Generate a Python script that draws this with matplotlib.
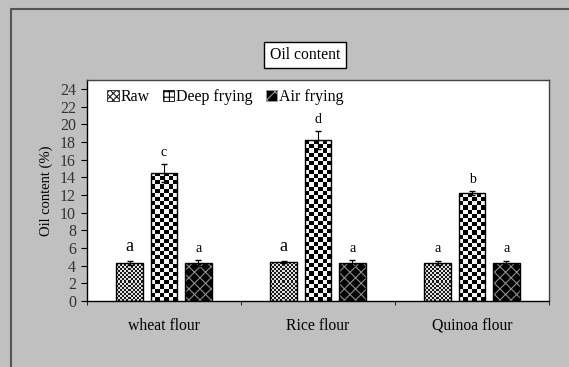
import numpy as np
import matplotlib
matplotlib.use("Agg")
import matplotlib.pyplot as plt
from matplotlib.patches import Patch
from matplotlib.lines import Line2D

plt.rcParams['font.family'] = ['Liberation Serif', 'DejaVu Serif']
plt.rcParams['hatch.linewidth'] = 0.8

# data
categories = ['wheat flour', 'Rice flour', 'Quinoa flour']
series = ['Raw', 'Deep frying', 'Air frying']
raw = [4.3, 4.4, 4.3]
deep = [14.5, 18.2, 12.2]
air = [4.3, 4.3, 4.3]
raw_err = [0.25, 0.1, 0.25]
deep_err = [1.0, 1.0, 0.25]
air_err = [0.3, 0.3, 0.25]
raw_letters = ['a', 'a', 'a']
deep_letters = ['c', 'd', 'b']
air_letters = ['a', 'a', 'a']
raw_letter_big = [True, True, False]

fig = plt.figure(figsize=(5.69, 3.67), dpi=100)
fig.patch.set_facecolor('#c0c0c0')
# outer frame of the chart area (left and top edges only)
fig.add_artist(Line2D([11/569, 11/569, 1.0], [0, 1 - 9/367, 1 - 9/367],
                      transform=fig.transFigure, color='#555555', linewidth=1.5))

ax = fig.add_axes([87/569, 1 - 301/367, 462/569, 221/367])
ax.set_facecolor('white')

x = np.arange(len(categories))
w = 0.175
gap = 0.222


def checker(patch, cell_px, c1, c2):
    bb = patch.get_bbox()
    disp = ax.transData.transform([[bb.x0, bb.y0], [bb.x1, bb.y1]])
    nx = max(1, int(round((disp[1, 0] - disp[0, 0]) / cell_px)))
    ny = max(1, int(round((disp[1, 1] - disp[0, 1]) / cell_px)))
    ii, jj = np.indices((ny, nx))
    arr = ((ii + jj) % 2).astype(float)
    cmap = matplotlib.colors.ListedColormap([c1, c2])
    im = ax.imshow(arr, extent=[bb.x0, bb.x1, bb.y0, bb.y1], origin='lower',
                   cmap=cmap, interpolation='nearest', aspect='auto', zorder=2)
    im.set_clip_path(patch)


ax.set_xlim(-0.5, 2.5)
ax.set_ylim(0, 25)

b_raw = ax.bar(x - gap, raw, w, edgecolor='black', linewidth=1, zorder=3, fill=False)
b_deep = ax.bar(x, deep, w, edgecolor='black', linewidth=1, zorder=3, fill=False)
# air frying: black fill with gray diagonal cross-hatch
ax.bar(x + gap, air, w, color='black', edgecolor='#8c8c8c', hatch='xxx', linewidth=0, zorder=2)
ax.bar(x + gap, air, w, fill=False, edgecolor='black', linewidth=1, zorder=3)

fig.canvas.draw()
for p in b_raw:
    checker(p, 2.0, '#e0e0e0', '#1a1a1a')
for p in b_deep:
    checker(p, 4.2, '#f4f4f4', '#000000')

ax.errorbar(x - gap, raw, yerr=raw_err, fmt='none', ecolor='black', capsize=2, elinewidth=0.8, zorder=4)
ax.errorbar(x, deep, yerr=deep_err, fmt='none', ecolor='black', capsize=2, elinewidth=0.8, zorder=4)
ax.errorbar(x + gap, air, yerr=air_err, fmt='none', ecolor='black', capsize=2, elinewidth=0.8, zorder=4)

for i in range(len(categories)):
    fs = 13 if raw_letter_big[i] else 10
    ax.text(x[i] - gap, raw[i] + raw_err[i] + 0.7, raw_letters[i], ha='center', va='bottom', fontsize=fs)
    ax.text(x[i], deep[i] + deep_err[i] + 0.6, deep_letters[i], ha='center', va='bottom', fontsize=10)
    ax.text(x[i] + gap, air[i] + air_err[i] + 0.6, air_letters[i], ha='center', va='bottom', fontsize=10)

ax.set_yticks(np.arange(0, 25, 2))
ax.set_xticks(x)
ax.set_xticklabels(categories, fontsize=11.3)
ax.set_xticks([-0.5, 0.5, 1.5, 2.5], minor=True)
ax.tick_params(axis='x', which='major', length=0, pad=12)
ax.tick_params(axis='x', which='minor', length=3, direction='out')
ax.tick_params(axis='y', labelsize=11.5, length=4, direction='out', pad=4, labelcolor='#333333')
ax.set_ylabel('Oil content (%)', fontsize=10.5, labelpad=5)
for s in ax.spines.values():
    s.set_color('black')
    s.set_linewidth(1)
ax.spines['top'].set_color('#444444')
ax.spines['right'].set_color('#444444')

handles = [Patch(facecolor='white', edgecolor='#222222', hatch='xxxxx', linewidth=0.6),
           Patch(facecolor='white', edgecolor='black', hatch='+++', linewidth=0.6),
           Patch(facecolor='black', edgecolor='#999999', hatch='xx', linewidth=0.6)]
ax.legend(handles, series, loc='upper left', ncol=3, frameon=False, fontsize=11.5,
          handlelength=0.7, handleheight=0.7, handletextpad=0.1, columnspacing=0.85,
          bbox_to_anchor=(0.02, 1.01), borderaxespad=0.3)

fig.text(305/569, 1 - 55/367, 'Oil content', ha='center', va='center', fontsize=11.3,
         bbox=dict(boxstyle='square,pad=0.35', facecolor='white', edgecolor='black', linewidth=1))

fig.savefig('out.png', dpi=100, facecolor=fig.get_facecolor())
